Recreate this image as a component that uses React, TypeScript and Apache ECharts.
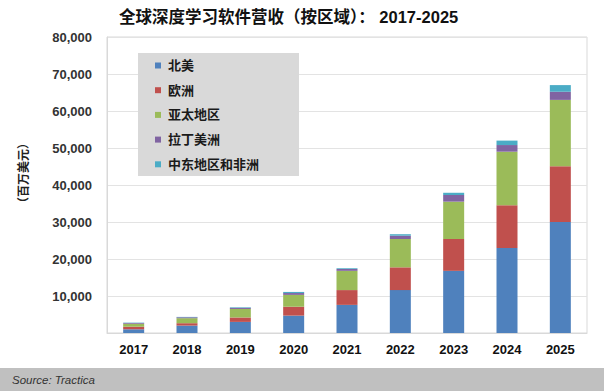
import React, { useEffect, useRef } from "react";
import * as echarts from "echarts";

const years = ["2017", "2018", "2019", "2020", "2021", "2022", "2023", "2024", "2025"];
const northAmerica = [1000, 2000, 3000, 4700, 7600, 11600, 16800, 23000, 30000];
const europe = [700, 650, 1200, 2400, 4000, 6150, 8600, 11500, 15100];
const asiaPacific = [800, 1350, 2300, 3200, 5200, 7650, 10100, 14500, 17900];
const latinAmerica = [200, 250, 300, 500, 500, 900, 1800, 1800, 2200];
const middleEastAfrica = [100, 100, 150, 300, 200, 400, 600, 1200, 1800];
const seriesNames = ["北美", "欧洲", "亚太地区", "拉丁美洲", "中东地区和非洲"];
const seriesColors = ["#4F81BD", "#C0504D", "#9BBB59", "#8064A2", "#4BACC6"];
const yTicks = [0, 10000, 20000, 30000, 40000, 50000, 60000, 70000, 80000];

const FONT = '"Liberation Sans", "Noto Sans CJK SC", sans-serif';

export default function App() {
  const ref = useRef<HTMLDivElement>(null);
  useEffect(() => {
    if (!ref.current) return;
    const chart = echarts.init(ref.current, undefined, { renderer: "svg" });
    const values = [northAmerica, europe, asiaPacific, latinAmerica, middleEastAfrica];
    chart.setOption({
      animation: false,
      backgroundColor: "#ffffff",
      textStyle: { fontFamily: FONT },
      title: {
        text: "全球深度学习软件营收（按区域）： 2017-2025",
        left: 114,
        top: 4,
        textStyle: { fontFamily: FONT, fontSize: 16.5, fontWeight: "bold", color: "#111" },
      },
      grid: {
        left: 107,
        right: 17,
        top: 37,
        bottom: 58,
        show: true,
        borderColor: "#d9d9d9",
        borderWidth: 1,
      },
      legend: {
        orient: "vertical",
        left: 150,
        top: 54,
        itemWidth: 6,
        itemHeight: 6,
        itemGap: 11.7,
        icon: "rect",
        z: 6,
        data: seriesNames,
        textStyle: { fontFamily: FONT, fontSize: 13, fontWeight: "bold", color: "#1a1a1a", padding: [0, 0, 0, 2] },
      },
      graphic: [
        {
          type: "rect",
          z: 5,
          shape: { x: 138, y: 53, width: 161, height: 123 },
          style: { fill: "#d9d9d9" },
        },
        {
          type: "rect",
          z: 5,
          shape: { x: 0, y: 368, width: 604, height: 23 },
          style: { fill: "#c0c0c0" },
        },
        {
          type: "text",
          z: 6,
          x: 12,
          y: 380,
          style: {
            text: "Source: Tractica",
            fontFamily: FONT,
            fontSize: 11.5,
            fontStyle: "italic",
            fill: "#333",
            verticalAlign: "middle",
          },
        },
      ],
      xAxis: {
        type: "category",
        data: years,
        axisLine: { show: true, lineStyle: { color: "#d9d9d9" } },
        axisTick: { show: false },
        axisLabel: { margin: 10, fontFamily: FONT, fontSize: 13, fontWeight: "bold", color: "#111" },
      },
      yAxis: {
        type: "value",
        min: yTicks[0],
        max: yTicks[yTicks.length - 1],
        interval: 10000,
        name: "（百万美元）",
        nameLocation: "middle",
        nameGap: 77,
        nameRotate: 90,
        nameTextStyle: { fontFamily: FONT, fontSize: 12, fontWeight: "bold", color: "#222", padding: [0, 0, 0, 24] },
        axisLine: { show: true, lineStyle: { color: "#d9d9d9" } },
        axisTick: { show: false },
        splitLine: { lineStyle: { color: "#e3e3e3" } },
        axisLabel: {
          margin: 15,
          fontFamily: FONT,
          fontSize: 13,
          fontWeight: "bold",
          color: "#333",
          formatter: (v: number) => (v === 0 ? "" : v.toLocaleString("en-US")),
        },
      },
      series: seriesNames.map((name, i) => ({
        name,
        type: "bar",
        stack: "total",
        barWidth: 21,
        itemStyle: { color: seriesColors[i] },
        data: values[i],
      })),
    });
    return () => chart.dispose();
  }, []);
  return (
    <div
      ref={ref}
      style={{ position: "fixed", left: 0, top: 0, width: 604, height: 391 }}
    />
  );
}
